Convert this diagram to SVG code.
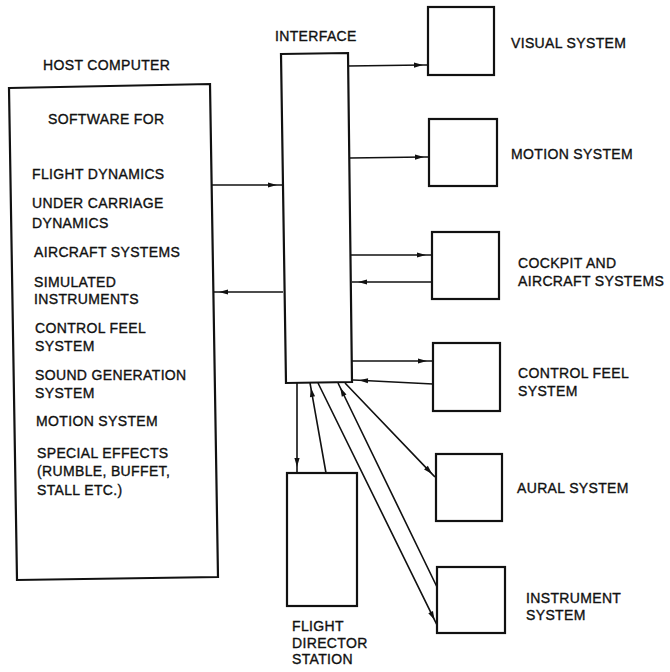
<svg xmlns="http://www.w3.org/2000/svg" width="670" height="672" viewBox="0 0 670 672">
<style>
text{font-family:"Liberation Sans",Arial,sans-serif;font-size:14px;letter-spacing:0.35px;fill:#111;stroke:#111;stroke-width:0.35}
.box{fill:#fff;stroke:#111;stroke-width:2.2;stroke-linejoin:miter}
.con{fill:none;stroke:#111;stroke-width:1.6}
.ar{marker-mid:url(#ah)}
</style>
<defs>
<marker id="ah" viewBox="-10 -4 12 8" markerWidth="12" markerHeight="8" refX="0" refY="0" orient="auto" markerUnits="userSpaceOnUse">
<path d="M0,0 L-9,-2.6 L-9,2.6 z" fill="#111"/>
</marker>
</defs>
<rect width="670" height="672" fill="#fff"/>
<g id="connectors">
<path class="con ar" d="M212,185 L277,185 L282,185"/>
<path class="con ar" d="M283,292 L219,292 L213,292"/>
<path class="con ar" d="M348,66 L423,65 L428,65"/>
<path class="con ar" d="M350,158 L424,157 L429,157"/>
<path class="con ar" d="M351,255 L426,255 L432,255"/>
<path class="con ar" d="M432,282 L358,282 L352,282"/>
<path class="con ar" d="M352,361 L427,361 L433,361"/>
<path class="con ar" d="M433,384 L359,380.3 L353,380"/>
<path class="con ar" d="M297,383 L297,467 L297,473"/>
<path class="con ar" d="M326,473 L310.9,387.9 L310,383"/>
<path class="con ar" d="M318,383 L434.6,620.1 L437,625"/>
<path class="con ar" d="M437,587 L340.2,387.5 L338,383"/>
<path class="con ar" d="M345,383 L432.2,474.1 L435,477"/>
</g>
<g id="host">
<path class="box" d="M9,88 L210,84 L218,577 L17,580 Z"/>
<text x="43" y="70">HOST COMPUTER</text>
<text x="48" y="124">SOFTWARE FOR</text>
<text x="32" y="179">FLIGHT DYNAMICS</text>
<text x="32" y="208">UNDER CARRIAGE</text>
<text x="32" y="228">DYNAMICS</text>
<text x="34" y="257">AIRCRAFT SYSTEMS</text>
<text x="34" y="287">SIMULATED</text>
<text x="34" y="304">INSTRUMENTS</text>
<text x="35" y="333">CONTROL FEEL</text>
<text x="35" y="351">SYSTEM</text>
<text x="35" y="380">SOUND GENERATION</text>
<text x="35" y="398">SYSTEM</text>
<text x="36" y="426">MOTION SYSTEM</text>
<text x="37" y="458">SPECIAL EFFECTS</text>
<text x="37" y="476">(RUMBLE, BUFFET,</text>
<text x="37" y="495">STALL ETC.)</text>
</g>
<g id="interface">
<path class="box" d="M281,54 L348,53 L352,382 L286,383 Z"/>
<text x="275" y="41">INTERFACE</text>
</g>
<g id="visual">
<rect class="box" x="428" y="7" width="66" height="68"/>
<text x="511" y="48">VISUAL SYSTEM</text>
</g>
<g id="motion">
<rect class="box" x="429" y="119" width="68" height="67"/>
<text x="511" y="159">MOTION SYSTEM</text>
</g>
<g id="cockpit">
<rect class="box" x="432" y="232" width="67" height="67"/>
<text x="518" y="268">COCKPIT AND</text>
<text x="518" y="286">AIRCRAFT SYSTEMS</text>
</g>
<g id="controlfeel">
<rect class="box" x="433" y="343" width="67" height="68"/>
<text x="518" y="378">CONTROL FEEL</text>
<text x="518" y="396">SYSTEM</text>
</g>
<g id="aural">
<rect class="box" x="436" y="454" width="66" height="67"/>
<text x="517" y="493">AURAL SYSTEM</text>
</g>
<g id="instrument">
<rect class="box" x="437" y="567" width="68" height="66"/>
<text x="526" y="603">INSTRUMENT</text>
<text x="526" y="620">SYSTEM</text>
</g>
<g id="flightdirector">
<rect class="box" x="287" y="473" width="70" height="133"/>
<text x="292" y="631">FLIGHT</text>
<text x="292" y="648">DIRECTOR</text>
<text x="292" y="664">STATION</text>
</g>
</svg>
